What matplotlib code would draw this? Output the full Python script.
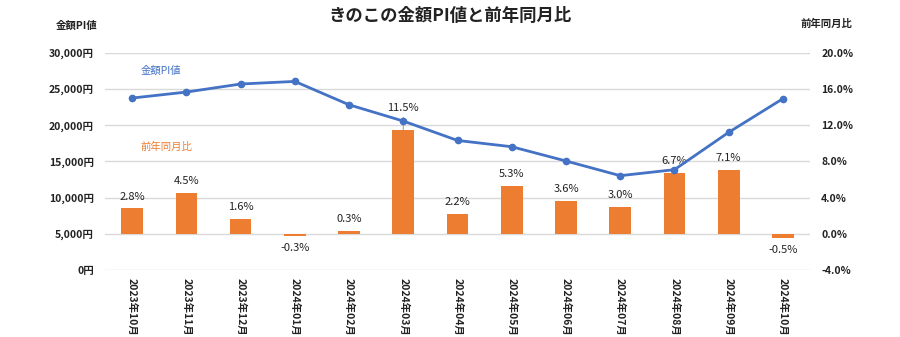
import numpy as np
import matplotlib
matplotlib.use("Agg")
import matplotlib.pyplot as plt
from matplotlib.ticker import FuncFormatter

plt.rcParams['font.family'] = ['Noto Sans CJK JP', 'DejaVu Sans']

months = ['2023年10月', '2023年11月', '2023年12月', '2024年01月', '2024年02月',
          '2024年03月', '2024年04月', '2024年05月', '2024年06月', '2024年07月',
          '2024年08月', '2024年09月', '2024年10月']
pi_value = [23760, 24590, 25700, 26060, 22830, 20580, 17900, 17030, 15060,
            13030, 13860, 19020, 23670]
yoy = [2.8, 4.5, 1.6, -0.3, 0.3, 11.5, 2.2, 5.3, 3.6, 3.0, 6.7, 7.1, -0.5]

BLUE = '#4472C4'
ORANGE = '#ED7D31'
TXT = '#222222'

fig = plt.figure(figsize=(9, 3.37), dpi=100)
ax1 = fig.add_axes([0.1167, 0.199, 0.7833, 0.644])
ax2 = ax1.twinx()
ax1.set_zorder(ax2.get_zorder() + 1)
ax1.patch.set_visible(False)

x = np.arange(len(months))

# bars (right axis)
ax2.bar(x, yoy, width=0.4, color=ORANGE, zorder=3)
ax2.set_ylim(-4, 20)
ax2.set_yticks(np.arange(-4, 21, 4))
ax2.yaxis.set_major_formatter(FuncFormatter(lambda v, p: f'{v:.1f}%'))
ax2.grid(axis='y', color='#d9d9d9', lw=1, zorder=0)
top = max(yoy)
for v, xi in zip(yoy, x):
    if v == top:
        # label pushed up with a leader line (avoids the line)
        ax2.annotate(f'{v:.1f}%', (xi, v), xytext=(0, 12), textcoords='offset points',
                     ha='center', va='bottom', fontsize=8, color=TXT,
                     arrowprops=dict(arrowstyle='-', color='#a6a6a6', lw=0.8,
                                     shrinkA=1, shrinkB=0))
    elif v >= 0:
        ax2.annotate(f'{v:.1f}%', (xi, v), xytext=(0, 5), textcoords='offset points',
                     ha='center', va='bottom', fontsize=8, color=TXT)
    else:
        ax2.annotate(f'{v:.1f}%', (xi, v), xytext=(0, -5), textcoords='offset points',
                     ha='center', va='top', fontsize=8, color=TXT)

# line (left axis)
ax1.plot(x, pi_value, color=BLUE, lw=2, marker='o', ms=4.5, zorder=5)
ax1.set_ylim(0, 30000)
ax1.set_yticks(np.arange(0, 30001, 5000))
ax1.yaxis.set_major_formatter(FuncFormatter(lambda v, p: f'{int(v):,}円'))
ax1.set_xlim(-0.5, len(months) - 0.5)
ax1.set_xticks(x)
ax1.set_xticklabels(months, rotation=-90)

for a in (ax1, ax2):
    for s in a.spines.values():
        s.set_visible(False)
    a.tick_params(length=0, labelsize=7.5, colors=TXT)
    for lab in a.get_yticklabels() + a.get_xticklabels():
        lab.set_fontweight('bold')
ax1.tick_params(axis='y', pad=8)
ax2.tick_params(axis='y', pad=8)
ax1.tick_params(axis='x', pad=6)

fig.text(0.5, 0.952, 'きのこの金額PI値と前年同月比', ha='center', va='center',
         fontsize=12.5, fontweight='bold', color=TXT)
fig.text(0.085, 0.925, '金額PI値', ha='center', va='center', fontsize=7.5,
         fontweight='bold', color=TXT)
fig.text(0.889, 0.93, '前年同月比', ha='left', va='center', fontsize=7.5,
         fontweight='bold', color=TXT)
ax1.text(0.15, 27490, '金額PI値', color=BLUE, fontsize=7.5, ha='left', va='center')
ax1.text(0.15, 16990, '前年同月比', color=ORANGE, fontsize=7.5, ha='left', va='center')

fig.savefig('out.png', dpi=100)
